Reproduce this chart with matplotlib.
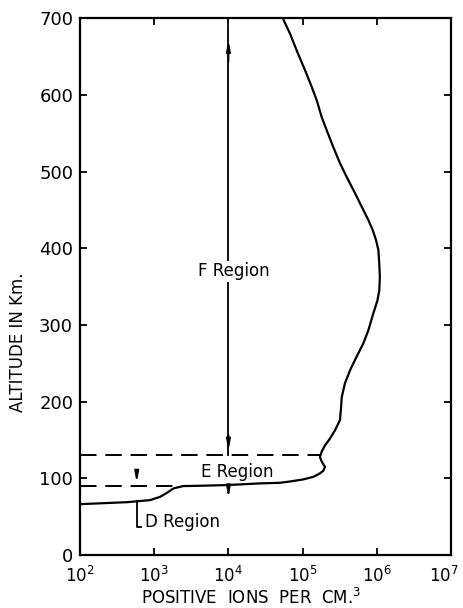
import matplotlib
matplotlib.use("Agg")
import matplotlib.pyplot as plt
import matplotlib.transforms as mtransforms

# Ion density profile (positive ions per cm^3) versus altitude (km)
altitude = [703, 680, 658, 632, 611, 593, 571, 554, 532, 511, 493, 472, 450,
            437, 424, 411, 398, 380, 363, 345, 332, 315, 293, 276, 259, 241,
            224, 206, 193, 176, 163, 152, 143, 135, 128, 122, 115, 110, 106.5,
            102, 98.7, 96, 94.3, 93.5, 91.3, 90.4, 90, 87, 81, 76, 71.7, 69,
            66.5]
ions = [5.22e4, 6.76e4, 8.32e4, 1.08e5, 1.32e5, 1.55e5, 1.81e5, 2.11e5,
        2.59e5, 3.19e5, 3.93e5, 5.08e5, 6.58e5, 7.69e5, 8.79e5, 9.75e5,
        1.05e6, 1.08e6, 1.10e6, 1.08e6, 1.02e6, 8.97e5, 7.69e5, 6.58e5,
        5.36e5, 4.36e5, 3.72e5, 3.37e5, 3.3e5, 3.19e5, 2.74e5, 2.34e5,
        2.0e5, 1.81e5, 1.71e5, 1.81e5, 2.0e5, 1.9e5, 1.71e5, 1.39e5,
        1.02e5, 6.8e4, 4.95e4, 2.67e4, 9.5e3, 4.1e3, 2.45e3, 1.82e3,
        1.47e3, 1.2e3, 8.8e2, 4.3e2, 1.05e2]

# region boundaries (km)
e_top = 130
e_bottom = 90

xticks = [1e2, 1e3, 1e4, 1e5, 1e6, 1e7]
xlabels = ["$10^{2}$", "$10^{3}$", "$10^{4}$", "$10^{5}$", "$10^{6}$", "$10^{7}$"]
yticks = [0, 100, 200, 300, 400, 500, 600, 700]

plt.rcParams["font.family"] = "DejaVu Sans"

fig = plt.figure(figsize=(4.63, 6.08), dpi=100)
ax = fig.add_axes([0.173, 0.087, 0.801, 0.883])

ax.plot(ions, altitude, color="black", lw=1.6, clip_on=True)

# dashed boundaries
ax.plot([1e2, 1.7e5], [e_top, e_top], color="black", lw=1.4, dashes=(8.5, 4.5))
ax.plot([1e2, 2.0e3], [e_bottom, e_bottom], color="black", lw=1.4, dashes=(8.5, 4.5))

arrow = dict(arrowstyle="-|>,head_length=0.6,head_width=0.12", color="black", lw=1.3)

# F region arrow
ax.plot([1e4, 1e4], [e_top, 690], color="black", lw=1.3)
ax.annotate("", xy=(1e4, 675), xytext=(1e4, 640), arrowprops=arrow)
ax.annotate("", xy=(1e4, e_top + 3), xytext=(1e4, e_top + 30), arrowprops=arrow)
ax.text(1.19e4, 370, "F Region", ha="center", va="center", fontsize=12,
        bbox=dict(facecolor="white", edgecolor="none", pad=1))

# E region marks
ax.annotate("", xy=(1e4, 72), xytext=(1e4, e_bottom), arrowprops=arrow)
ax.text(1.3e4, 108, "E Region", ha="center", va="center", fontsize=12)

# D region marks
xd = 5.8e2
ax.annotate("", xy=(xd, e_bottom + 1), xytext=(xd, 112), arrowprops=arrow)
ax.plot([xd, xd, 6.6e2], [70, 37, 37], color="black", lw=1.3)
ax.text(7.6e2, 43, "D Region", ha="left", va="center", fontsize=12)

ax.set_xscale("log")
ax.set_xlim(1e2, 1e7)
ax.set_ylim(0, 700)
ax.set_xticks(xticks)
ax.set_xticklabels(xlabels)
ax.set_yticks(yticks)
ax.minorticks_off()
ax.tick_params(direction="in", length=5, width=1.3, top=True, right=True)
ax.tick_params(axis="y", labelsize=13, pad=5)
ax.tick_params(axis="x", labelsize=12, pad=8)
# keep the last x label inside the figure
last = ax.get_xticklabels()[-1]
last.set_transform(last.get_transform() +
                   mtransforms.ScaledTranslation(-5 / 72, 0, fig.dpi_scale_trans))
for s in ax.spines.values():
    s.set_linewidth(1.6)

fig.text(0.039, 0.4375, "ALTITUDE IN Km.", rotation=90, ha="center",
         va="center", fontsize=12)
fig.text(0.543, 0.016, "POSITIVE  IONS  PER  CM.$^{3}$", ha="center",
         va="center", fontsize=12)

plt.savefig("out.png", dpi=100)
